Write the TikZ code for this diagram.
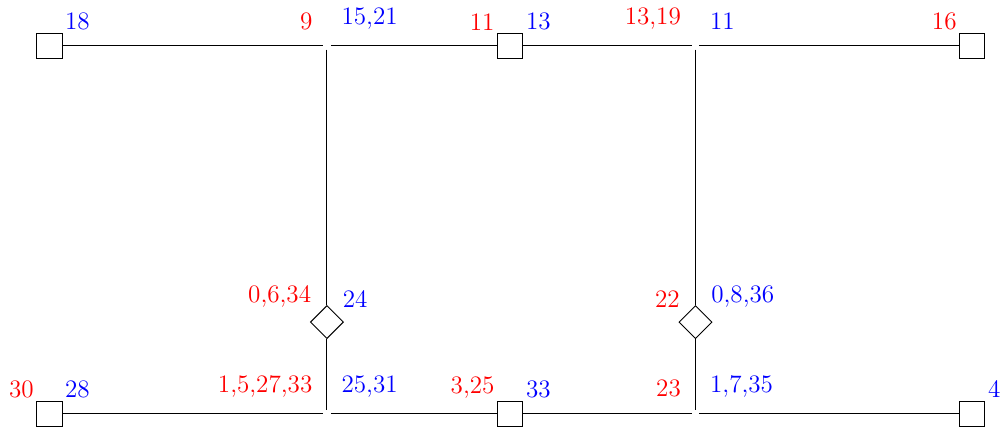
\documentclass[tikz,border=0pt]{standalone}
\usetikzlibrary{shapes.geometric}

\begin{document}
\begin{tikzpicture}[font=\fontsize{11}{13}\selectfont,
        bus/.style={draw, minimum size=11pt, inner sep=0pt},
        tie/.style={draw, diamond, minimum size=14.5pt, inner sep=0pt},
        junc/.style={inner sep=1.5pt},
        jleft/.style={red, xshift=-3.5pt, yshift=4.2pt},
        jright/.style={blue, xshift=3.5pt, yshift=4.2pt},
        tleft/.style={red, xshift=-2pt, yshift=1.5pt},
        tright/.style={blue, xshift=2pt, yshift=1.5pt},
        every label/.style={inner sep=1pt}]
                \useasboundingbox (0,0) rectangle (15.385,6.585);
                \node[bus, label={[blue]above right:18}] (tl) at (0.76,5.88) {};
                \node[junc, label={[jleft]above left:9}, label={[jright]above right:{15,21}}] (jtl) at (5.03,5.88) {};
                \node[bus, label={[red]above left:11}, label={[blue]above right:13}] (tm) at (7.85,5.88) {};
                \node[junc, label={[jleft]above left:{13,19}}, label={[jright]above right:11}] (jtr) at (10.70,5.88) {};
                \node[bus, label={[red]above left:16}] (tr) at (14.96,5.88) {};
                
                \node[tie, label={[tleft]above left:{0,6,34}}, label={[tright]above right:24}] (dl) at (5.03,1.63) {};
                \node[tie, label={[tleft]above left:22}, label={[tright]above right:{0,8,36}}] (dr) at (10.70,1.63) {};
                
                \node[bus, label={[red]above left:30}, label={[blue]above right:28}] (bl) at (0.76,0.22) {};
                \node[junc, label={[jleft]above left:{1,5,27,33}}, label={[jright]above right:{25,31}}] (jbl) at (5.03,0.22) {};
                \node[bus, label={[red]above left:{3,25}}, label={[blue]above right:33}] (bm) at (7.85,0.22) {};
                \node[junc, label={[jleft]above left:23}, label={[jright]above right:{1,7,35}}] (jbr) at (10.70,0.22) {};
                \node[bus, label={[blue]above right:4}] (br) at (14.96,0.22) {};
                
                \draw (tl) -- (jtl);
                \draw (jtl) -- (tm);
                \draw (tm) -- (jtr);
                \draw (jtr) -- (tr);
                \draw (jtl) -- (dl);
                \draw (dl) -- (jbl);
                \draw (jtr) -- (dr);
                \draw (dr) -- (jbr);
                \draw (bl) -- (jbl);
                \draw (jbl) -- (bm);
                \draw (bm) -- (jbr);
                \draw (jbr) -- (br);
            \end{tikzpicture}
\end{document}
